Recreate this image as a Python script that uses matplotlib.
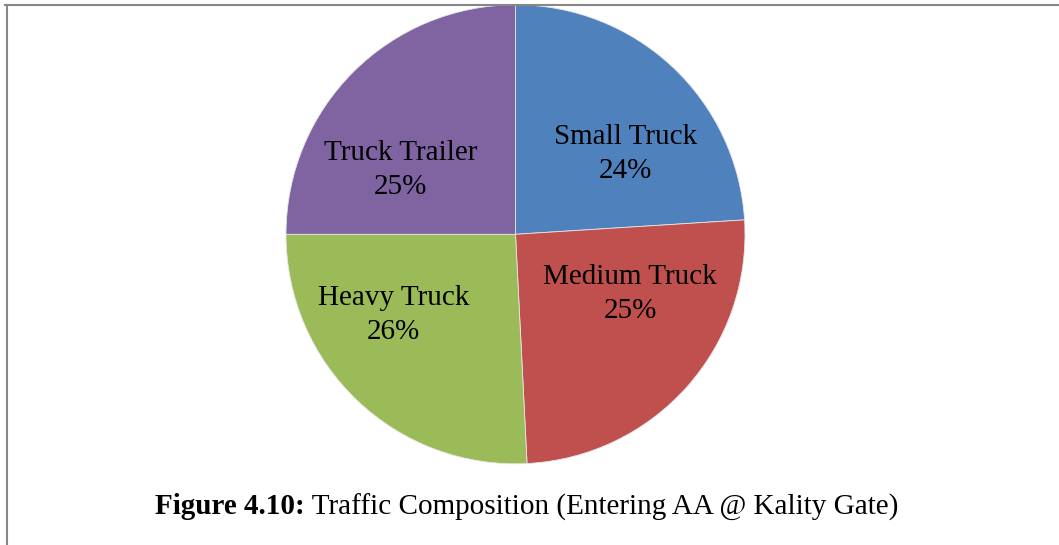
import matplotlib
matplotlib.use('Agg')
import matplotlib.pyplot as plt
from matplotlib.lines import Line2D

# Data
categories = ['Small Truck', 'Medium Truck', 'Heavy Truck', 'Truck Trailer']
shares = [24.0, 25.2, 25.8, 25.0]
pct_labels = ['24%', '25%', '26%', '25%']
colors = ['#4F81BD', '#C0504D', '#9BBB59', '#8064A2']

# label centres in pie units (radius = 1)
label_pos = [(0.48, 0.35), (0.50, -0.26), (-0.53, -0.35), (-0.50, 0.28)]

W, H = 1059, 545
fig = plt.figure(figsize=(W / 100, H / 100), dpi=100, facecolor='white')

# pie axes: centre (515.5, 234.3) px from top-left, radius 229.5 px
r = 229.5
cx, cy = 515.5, 234.3
ax = fig.add_axes([(cx - r) / W, (H - cy - r) / H, 2 * r / W, 2 * r / H])
ax.pie(shares, colors=colors, startangle=90, counterclock=False,
       radius=1, wedgeprops=dict(edgecolor='#E6E6E6', linewidth=0.6))
ax.set_xlim(-1, 1)
ax.set_ylim(-1, 1)
ax.set_aspect('equal')
ax.axis('off')

for (x, y), cat, pct in zip(label_pos, categories, pct_labels):
    ax.text(x, y, cat + '\n' + pct, ha='center', va='center',
            fontsize=21, family='Liberation Serif', color='black',
            linespacing=1.4)

# frame lines (top and left only)
grey = '#878787'
fig.add_artist(Line2D([5 / W, 1], [1 - 4.5 / H, 1 - 4.5 / H],
                      transform=fig.transFigure, color=grey, lw=1.5))
fig.add_artist(Line2D([6.5 / W, 6.5 / W], [0, 1 - 4.5 / H],
                      transform=fig.transFigure, color=grey, lw=1.5))

# caption: bold part + regular part, centred together
cap_y = 1 - 507 / H
t1 = fig.text(0, cap_y, 'Figure 4.10:', fontsize=21, fontweight='bold',
              family='Liberation Serif', va='center', ha='left')
t2 = fig.text(0, cap_y, ' Traffic Composition (Entering AA @ Kality Gate)',
              fontsize=21, family='Liberation Serif', va='center', ha='left')
renderer = fig.canvas.get_renderer()
w1 = t1.get_window_extent(renderer).width / W
w2 = t2.get_window_extent(renderer).width / W
start = 526.5 / W - (w1 + w2) / 2
t1.set_x(start)
t2.set_x(start + w1)

fig.savefig('out.png', dpi=100, facecolor='white')
